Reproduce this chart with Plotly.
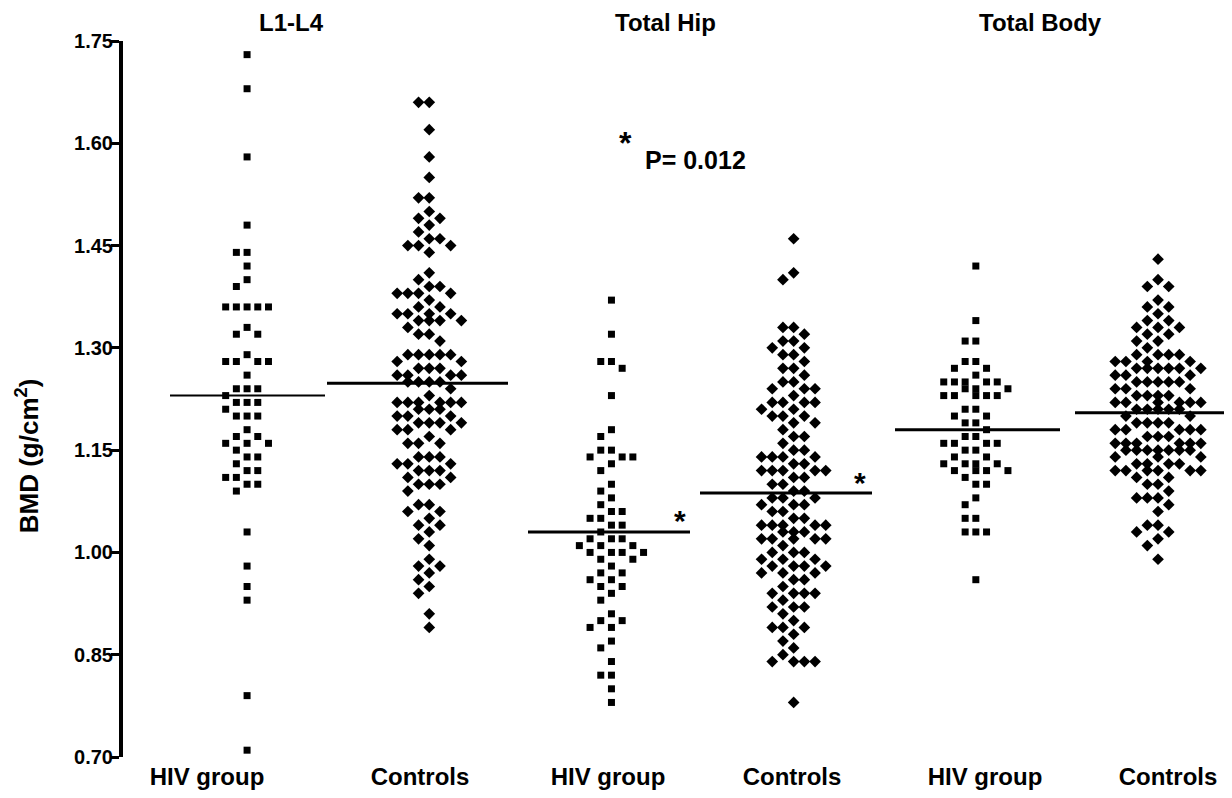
import plotly.graph_objects as go

# ---------------- data (BMD, g/cm2) ----------------
categories = ["HIV group", "Controls", "HIV group", "Controls", "HIV group", "Controls"]
region_titles = ["L1-L4", "Total Hip", "Total Body"]

hiv_l1l4 = [1.73, 1.68, 1.58, 1.48, 1.44, 1.44, 1.42, 1.40, 1.39,
            1.36, 1.36, 1.36, 1.36, 1.36, 1.33, 1.32, 1.32, 1.29,
            1.28, 1.28, 1.28, 1.28, 1.26, 1.24, 1.24, 1.24, 1.23,
            1.22, 1.22, 1.22, 1.21, 1.20, 1.20, 1.20, 1.18, 1.17, 1.17,
            1.16, 1.16, 1.16, 1.15, 1.14, 1.14, 1.13, 1.12, 1.12,
            1.11, 1.11, 1.10, 1.10, 1.09, 1.03, 0.98, 0.95, 0.93, 0.79, 0.71]

ctl_l1l4 = [1.66, 1.66, 1.62, 1.58, 1.55, 1.52, 1.52, 1.50, 1.49, 1.49,
            1.48, 1.47, 1.46, 1.46, 1.45, 1.45, 1.45, 1.44, 1.41, 1.40,
            1.39, 1.39, 1.38, 1.38, 1.38, 1.38, 1.37, 1.36, 1.36,
            1.35, 1.35, 1.35, 1.35, 1.34, 1.34, 1.34, 1.34, 1.33,
            1.32, 1.32, 1.31, 1.29, 1.29, 1.29, 1.29, 1.29, 1.28, 1.28,
            1.27, 1.27, 1.27, 1.26, 1.26, 1.26, 1.26, 1.25, 1.25, 1.25, 1.25,
            1.24, 1.23, 1.22, 1.22, 1.22, 1.22, 1.22, 1.22, 1.21, 1.21, 1.21,
            1.20, 1.20, 1.20, 1.19, 1.19, 1.19, 1.19, 1.18, 1.18, 1.18,
            1.17, 1.16, 1.16, 1.16, 1.14, 1.14, 1.14, 1.13, 1.13, 1.13,
            1.12, 1.12, 1.12, 1.11, 1.11, 1.10, 1.10, 1.10, 1.09,
            1.07, 1.07, 1.06, 1.06, 1.05, 1.04, 1.04, 1.03, 1.02, 1.01,
            0.99, 0.98, 0.98, 0.97, 0.96, 0.95, 0.94, 0.91, 0.89]

hiv_hip = [1.37, 1.32, 1.28, 1.28, 1.27, 1.23, 1.18, 1.17, 1.15, 1.15,
           1.14, 1.14, 1.14, 1.13, 1.12, 1.10, 1.09, 1.08, 1.07, 1.06, 1.06,
           1.05, 1.05, 1.04, 1.04, 1.03, 1.02, 1.02, 1.02, 1.01, 1.01, 1.01,
           1.00, 1.00, 1.00, 1.00, 0.99, 0.99, 0.98, 0.97, 0.97, 0.96, 0.96,
           0.95, 0.95, 0.94, 0.93, 0.91, 0.90, 0.90, 0.89, 0.89, 0.87, 0.86,
           0.84, 0.82, 0.82, 0.80, 0.78]

ctl_hip = [1.46, 1.41, 1.40, 1.33, 1.33, 1.32, 1.31, 1.31, 1.30, 1.30,
           1.29, 1.29, 1.28, 1.27, 1.27, 1.26, 1.25, 1.25, 1.24, 1.24, 1.24,
           1.23, 1.22, 1.22, 1.22, 1.22, 1.21, 1.21, 1.20, 1.20, 1.20,
           1.19, 1.19, 1.18, 1.17, 1.17, 1.16, 1.15, 1.15, 1.14, 1.14, 1.14, 1.14,
           1.13, 1.13, 1.12, 1.12, 1.12, 1.12, 1.12, 1.11, 1.11, 1.10, 1.10,
           1.09, 1.09, 1.08, 1.08, 1.08, 1.07, 1.07, 1.07, 1.06, 1.06, 1.05, 1.05,
           1.04, 1.04, 1.04, 1.04, 1.04, 1.03, 1.03, 1.03, 1.02, 1.02, 1.02, 1.02, 1.02,
           1.01, 1.00, 1.00, 1.00, 0.99, 0.99, 0.99, 0.98, 0.98, 0.98, 0.98,
           0.97, 0.97, 0.97, 0.96, 0.96, 0.95, 0.94, 0.94, 0.94, 0.94, 0.93,
           0.92, 0.92, 0.92, 0.91, 0.90, 0.89, 0.89, 0.89, 0.88, 0.87, 0.86,
           0.85, 0.84, 0.84, 0.84, 0.84, 0.78]

hiv_tb = [1.42, 1.34, 1.31, 1.31, 1.28, 1.28, 1.27, 1.27, 1.26,
          1.25, 1.25, 1.25, 1.25, 1.25, 1.24, 1.24, 1.24,
          1.23, 1.23, 1.23, 1.23, 1.23, 1.21, 1.21, 1.20, 1.20, 1.19, 1.19,
          1.18, 1.17, 1.17, 1.16, 1.16, 1.16, 1.16, 1.15, 1.15, 1.14, 1.14,
          1.13, 1.13, 1.13, 1.13, 1.12, 1.12, 1.12, 1.12, 1.11, 1.10, 1.10,
          1.08, 1.07, 1.05, 1.05, 1.03, 1.03, 1.03, 0.96]

ctl_tb = [1.43, 1.40, 1.39, 1.39, 1.37, 1.36, 1.36, 1.35, 1.34, 1.34,
          1.33, 1.33, 1.33, 1.32, 1.32, 1.31, 1.31, 1.30,
          1.29, 1.29, 1.29, 1.29, 1.28, 1.28, 1.28, 1.28,
          1.27, 1.27, 1.27, 1.27, 1.27, 1.27, 1.26, 1.26, 1.26,
          1.25, 1.25, 1.25, 1.25, 1.25, 1.24, 1.24, 1.24, 1.23, 1.23, 1.23, 1.23,
          1.22, 1.22, 1.22, 1.22, 1.22, 1.22, 1.21, 1.21, 1.21, 1.21, 1.21,
          1.20, 1.20, 1.19, 1.19, 1.19, 1.19, 1.18, 1.18, 1.18, 1.18, 1.18,
          1.17, 1.17, 1.17, 1.16, 1.16, 1.16, 1.16, 1.16, 1.16,
          1.15, 1.15, 1.15, 1.15, 1.15, 1.15, 1.15, 1.14, 1.14, 1.14,
          1.13, 1.13, 1.13, 1.13, 1.12, 1.12, 1.12, 1.12, 1.12, 1.12,
          1.11, 1.11, 1.10, 1.10, 1.09, 1.08, 1.08, 1.08, 1.07, 1.06,
          1.04, 1.04, 1.03, 1.03, 1.02, 1.01, 0.99]

group_means = [1.230, 1.248, 1.030, 1.087, 1.180, 1.205]

y_ticks = [0.70, 0.85, 1.00, 1.15, 1.30, 1.45, 1.60, 1.75]

# ---------------- layout constants ----------------
# The page body has an 8px margin, so the figure is sized/offset to compensate.
W, H = 1224, 790
ML, MR, MT, MB = 115, 0, 33, 41
Y_RANGE = [0.70, 1.75]
X_RANGE = [0.319, 6.406]
plot_w = W - ML - MR
plot_h = H - MT - MB
xscale = plot_w / (X_RANGE[1] - X_RANGE[0])   # px per x unit
yscale = plot_h / (Y_RANGE[1] - Y_RANGE[0])   # px per y unit
COL_PX = 10.7


def px_to_x(page_px):
    """Horizontal page pixel -> x data unit (page = figure + 8px body margin)."""
    return (page_px - 8 - ML) / xscale + X_RANGE[0]


def swarm(values, center, limit):
    """Column-grid dot-plot layout: prefer free slots within +-limit columns,
    otherwise allow touching the neighbouring row."""
    order = sorted(range(len(values)), key=lambda i: -values[i])
    placed = []
    xs = [0.0] * len(values)
    cands = [0]
    for m in range(1, 30):
        cands += [-m, m]

    def free(c, v, dmin):
        for pc, pv in placed:
            dx = (c - pc) * COL_PX
            dy = (v - pv) * yscale
            if dx * dx + dy * dy < dmin * dmin:
                return False
        return True

    for i in order:
        v = values[i]
        chosen = None
        for c in cands:
            if abs(c) > limit:
                break
            if free(c, v, 8.0):
                chosen = c
                break
        if chosen is None:
            for c in cands:
                if free(c, v, 6.0):
                    chosen = c
                    break
        placed.append((chosen, v))
        xs[i] = center + chosen * COL_PX / xscale
    return xs


series = [hiv_l1l4, ctl_l1l4, hiv_hip, ctl_hip, hiv_tb, ctl_tb]
symbols = ["square", "diamond", "square", "diamond", "square", "diamond"]
sizes = [7, 9, 7, 9, 7, 9]
limits = [3, 3, 3, 3, 3, 4]

fig = go.Figure()
for gi, vals in enumerate(series):
    center = gi + 1
    xs = swarm(vals, center, limits[gi])
    fig.add_trace(go.Scatter(
        x=xs, y=vals, mode="markers",
        marker=dict(symbol=symbols[gi], size=sizes[gi], color="black",
                    line=dict(width=0)),
        showlegend=False, hoverinfo="y"))

# mean lines (extent in page px as seen in the reference)
line_extent_px = [(170, 325), (327, 508), (528, 690), (700, 872), (895, 1060), (1075, 1232)]
line_w = [2, 3, 3, 3, 3, 3]
for gi, m in enumerate(group_means):
    a, b = line_extent_px[gi]
    fig.add_shape(type="line", xref="x", yref="y",
                  x0=px_to_x(a), x1=px_to_x(b), y0=m, y1=m,
                  line=dict(color="black", width=line_w[gi]))

FONT = "Liberation Sans, Arial, sans-serif"

# region titles
title_px = [291, 665, 1040]
for k, t in enumerate(region_titles):
    fig.add_annotation(x=px_to_x(title_px[k]), y=1.0, xref="x", yref="paper",
                       yshift=19, text="<b>%s</b>" % t, showarrow=False,
                       font=dict(family=FONT, size=24, color="black"),
                       yanchor="middle")

# significance marks
fig.add_annotation(x=px_to_x(680), y=group_means[2], xref="x", yref="y",
                   text="<b>*</b>", showarrow=False, yshift=11,
                   font=dict(family=FONT, size=30, color="black"))
fig.add_annotation(x=px_to_x(860), y=group_means[3], xref="x", yref="y",
                   text="<b>*</b>", showarrow=False, yshift=11,
                   font=dict(family=FONT, size=30, color="black"))
fig.add_annotation(x=px_to_x(625), y=1.600, xref="x", yref="y",
                   text="<b>*</b>", showarrow=False,
                   font=dict(family=FONT, size=32, color="black"))
fig.add_annotation(x=px_to_x(643), y=1.576, xref="x", yref="y", xanchor="left",
                   text="<b>P= 0.012</b>", showarrow=False,
                   font=dict(family=FONT, size=25, color="black"))

# y-axis title
fig.add_annotation(x=0, xref="paper", xshift=-(ML - 19), y=0.42, yref="paper",
                   text="<b>BMD (g/cm<sup>2</sup>)</b>", textangle=-90,
                   showarrow=False, xanchor="center", yanchor="middle",
                   font=dict(family=FONT, size=26, color="black"))

label_px = [207, 420, 608, 792, 985, 1168]

fig.update_layout(
    width=W, height=H,
    margin=dict(l=ML, r=MR, t=MT, b=MB),
    plot_bgcolor="white", paper_bgcolor="white",
    font=dict(family=FONT, color="black"),
)
fig.update_xaxes(
    range=X_RANGE, showgrid=False, zeroline=False, showline=False,
    tickmode="array", tickvals=[px_to_x(p) for p in label_px],
    ticktext=["<b>%s</b>" % c for c in categories],
    tickfont=dict(family=FONT, size=24, color="black"), ticks="",
    ticklabelstandoff=3, automargin=False,
)
fig.update_yaxes(
    range=Y_RANGE, showgrid=False, zeroline=False,
    showline=True, linecolor="black", linewidth=4,
    ticks="outside", ticklen=8, tickwidth=3, tickcolor="black",
    tickmode="array", tickvals=y_ticks,
    ticktext=["<b>%.2f</b>" % v for v in y_ticks],
    tickfont=dict(family=FONT, size=20, color="black"), automargin=False,
    ticklabelstandoff=-6,
)

fig.write_html("out.html")
